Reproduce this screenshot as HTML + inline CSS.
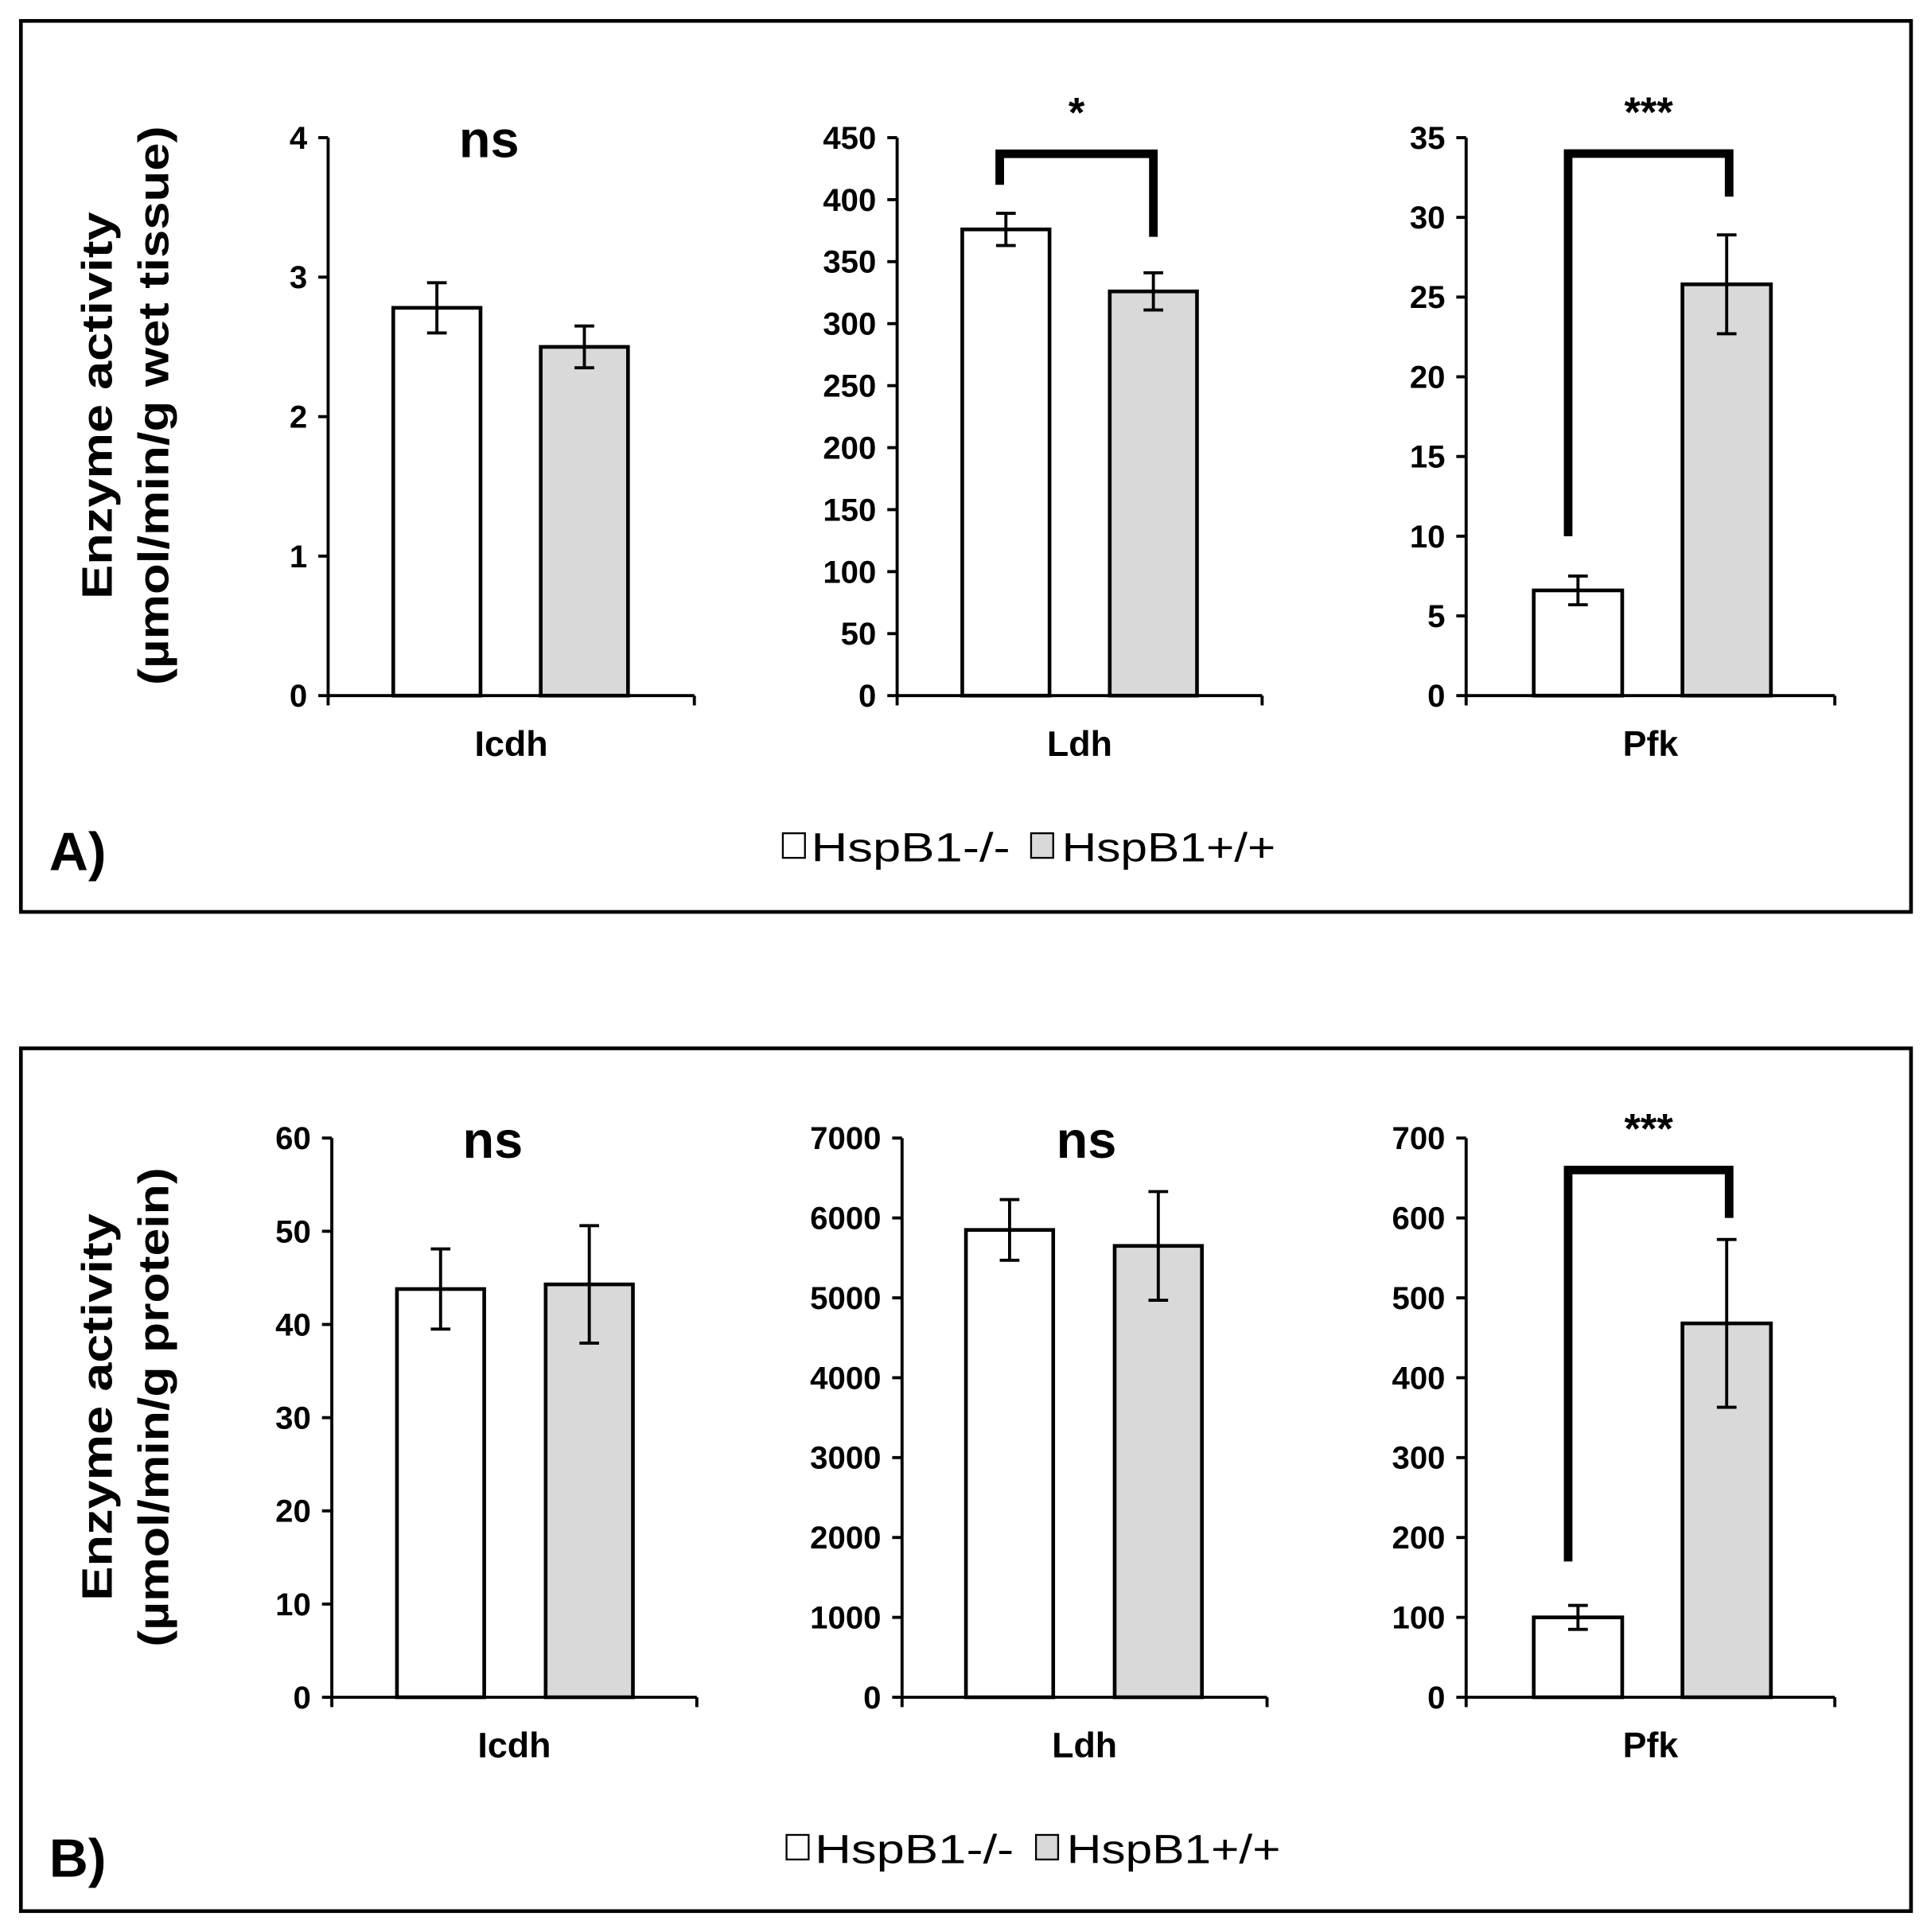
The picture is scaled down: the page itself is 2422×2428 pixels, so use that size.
<!DOCTYPE html>
<html><head><meta charset="utf-8"><style>
html,body{margin:0;padding:0;background:#fff}
svg{display:block}
text{font-family:"Liberation Sans",Arial,sans-serif}
</style></head><body>
<svg id="fig" width="2422" height="2428" viewBox="0 0 1568 1572" preserveAspectRatio="none" xmlns="http://www.w3.org/2000/svg">
<rect x="0" y="0" width="1568" height="1572" fill="#fff"/>
<rect x="17" y="17" width="1538" height="725" fill="none" stroke="#000" stroke-width="3"/>
<rect x="17" y="853" width="1538" height="702" fill="none" stroke="#000" stroke-width="3"/>
<text x="40" y="708" font-size="44" font-weight="bold">A)</text>
<text x="40" y="1527" font-size="44" font-weight="bold">B)</text>
<g transform="translate(103,330) rotate(-90)">
<text x="0" y="-12" text-anchor="middle" font-size="35" font-weight="bold" textLength="315" lengthAdjust="spacingAndGlyphs">Enzyme activity</text>
<text x="0" y="34" text-anchor="middle" font-size="35" font-weight="bold" textLength="455" lengthAdjust="spacingAndGlyphs">(µmol/min/g wet tissue)</text></g>
<g transform="translate(103,1145) rotate(-90)">
<text x="0" y="-12" text-anchor="middle" font-size="35" font-weight="bold" textLength="315" lengthAdjust="spacingAndGlyphs">Enzyme activity</text>
<text x="0" y="34" text-anchor="middle" font-size="35" font-weight="bold" textLength="390" lengthAdjust="spacingAndGlyphs">(µmol/min/g protein)</text></g>
<g>
<rect x="637" y="678" width="18" height="20" fill="#fff" stroke="#000" stroke-width="1.5"/>
<text x="660" y="701" font-size="33" textLength="162" lengthAdjust="spacingAndGlyphs">HspB1-/-</text>
<rect x="839" y="678" width="18" height="20" fill="#d9d9d9" stroke="#000" stroke-width="1.5"/>
<text x="864" y="701" font-size="33" textLength="174" lengthAdjust="spacingAndGlyphs">HspB1+/+</text></g>
<g>
<rect x="640" y="1493" width="18" height="20" fill="#fff" stroke="#000" stroke-width="1.5"/>
<text x="663" y="1516" font-size="33" textLength="162" lengthAdjust="spacingAndGlyphs">HspB1-/-</text>
<rect x="843" y="1493" width="18" height="20" fill="#d9d9d9" stroke="#000" stroke-width="1.5"/>
<text x="868" y="1516" font-size="33" textLength="174" lengthAdjust="spacingAndGlyphs">HspB1+/+</text></g>
<g id="charts"></g>
</svg>
<script>
const categories = ["Icdh","Ldh","Pfk","Icdh","Ldh","Pfk"];
const yMax = [4,450,35,60,7000,700];
const yStep = [1,50,5,10,1000,100];
const knockoutMeans = [2.78,376,6.6,43.8,5850,100];
const knockoutErr = [0.18,13,0.9,4.3,380,15];
const wildMeans = [2.5,326,25.8,44.3,5650,468];
const wildErr = [0.15,15,3.1,6.3,680,105];
const significance = ["ns","*","***","ns","ns","***"];
// bracket leg ends expressed in data units (left leg bottom, right leg bottom, top)
const bracketLeft = [null,412,10,null,null,170];
const bracketRight = [null,370,31.3,null,null,600];
const bracketTop = [null,437,34,null,null,660];

const layout = [
 {ax:267,ex:565,top:112,bot:566,b1:320,b2:440,bw:71},
 {ax:730,ex:1027,top:112,bot:566,b1:783,b2:903,bw:71},
 {ax:1193,ex:1493,top:112,bot:566,b1:1248,b2:1369,bw:72},
 {ax:270,ex:567,top:926,bot:1381,b1:323,b2:444,bw:71},
 {ax:734,ex:1031,top:926,bot:1381,b1:786,b2:907,bw:71},
 {ax:1193,ex:1493,top:926,bot:1381,b1:1248,b2:1369,bw:72}
];
const NS="http://www.w3.org/2000/svg";
const root=document.getElementById('charts');
function mk(tag,attrs,parent){const e=document.createElementNS(NS,tag);for(const k in attrs)e.setAttribute(k,attrs[k]);parent.appendChild(e);return e;}
layout.forEach((L,i)=>{
 const g=mk('g',{},root);
 
 
 const y=v=>L.bot-(v/yMax[i])*(L.bot-L.top);
 [[knockoutMeans,knockoutErr,L.b1,'#fff','knockout'],[wildMeans,wildErr,L.b2,'#d9d9d9','wildtype']].forEach(s=>{
  const v=s[0][i], e=s[1][i];
  const r=mk('rect',{x:s[2],y:y(v),width:L.bw,height:L.bot-y(v),fill:s[3],stroke:'#000','stroke-width':3},g);
  
  
  const cx=s[2]+L.bw/2;
  const eb=mk('path',{d:`M${cx} ${y(v+e)}V${y(v-e)}M${cx-8} ${y(v+e)}H${cx+8}M${cx-8} ${y(v-e)}H${cx+8}`,stroke:'#000','stroke-width':2.5,fill:'none'},g);
  
  
 });
 const ax=mk('path',{d:`M${L.ax} ${L.top}V${L.bot}H${L.ex}M${L.ax} ${L.bot}v8M${L.ex} ${L.bot}v8`,stroke:'#000','stroke-width':2.5,fill:'none'},g);
 
 
 for(let t=0;t<=yMax[i]+1e-9;t+=yStep[i]){
  mk('line',{x1:L.ax-8,x2:L.ax,y1:y(t),y2:y(t),stroke:'#000','stroke-width':2.5},g);
  const tx=mk('text',{x:L.ax-17,y:y(t)+9,'text-anchor':'end','font-size':26,'font-weight':'bold'},g);
  tx.textContent=t;
  
  
 }
 const cl=mk('text',{x:(L.ax+L.ex)/2,y:L.bot+49,'text-anchor':'middle','font-size':29,'font-weight':'bold'},g);
 cl.textContent=categories[i];
 
 
 const c1=L.b1+L.bw/2+(i%3==2?-8:-5), c2=L.b2+L.bw/2+(i%3==2?2:0);
 const sig=significance[i];
 if(sig==='ns'){
  const st=mk('text',{x:(i%3===0?L.ax+131:L.ax+150),y:L.top+16,'text-anchor':'middle','font-size':42,'font-weight':'bold'},g);
  st.textContent='ns';
  
  
 } else {
  const bt=y(bracketTop[i]);
  const br=mk('path',{d:`M${c1} ${y(bracketLeft[i])}V${bt}H${c2}V${y(bracketRight[i])}`,stroke:'#000','stroke-width':7,fill:'none'},g);
  
  
  const st=mk('text',{x:(c1+c2)/2,y:bt-22,'text-anchor':'middle','font-size':34,'font-weight':'bold'},g);
  st.textContent=sig;
  
  
 }
});
</script>
</body></html>
